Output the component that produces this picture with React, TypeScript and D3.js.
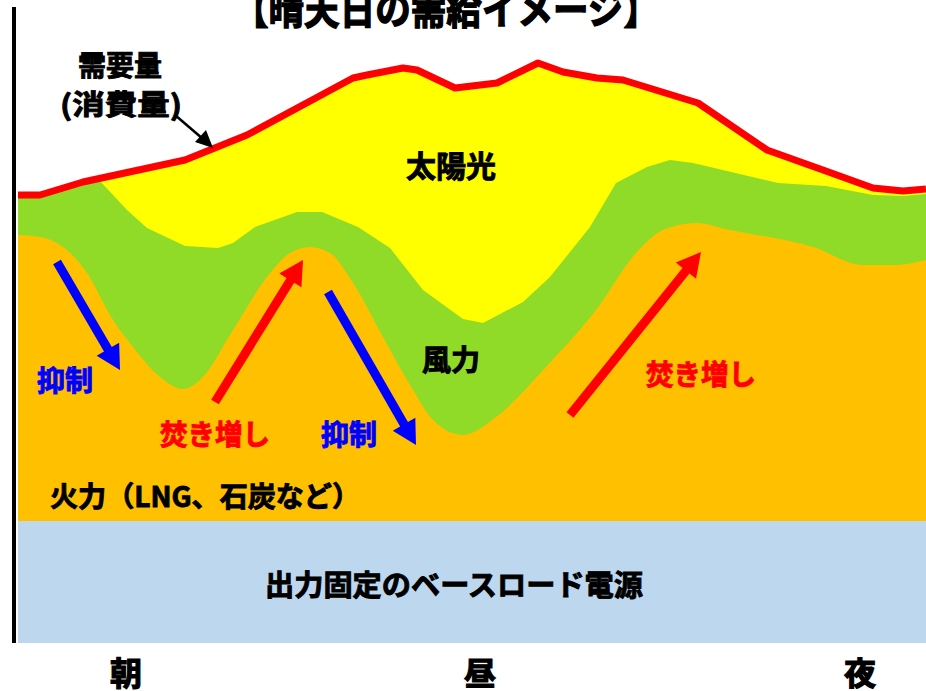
import React from 'react';
import * as d3 from 'd3';

// time index (0 = left edge of the plot) and output level
const demand: [number, number][] = [
  [0, 448], [22, 448], [65, 461], [167, 483], [229, 508], [335, 565], [349, 568],
  [385, 575], [399, 573], [437, 555], [479, 560], [520, 580], [545, 571], [579, 565],
  [605, 563], [680, 540], [749, 493], [805, 473], [855, 455], [885, 452], [908, 454],
];

const windTop: [number, number][] = [
  [0, 446], [22, 446], [65, 459], [82, 462], [109, 433], [129, 415], [167, 397],
  [200, 395], [215, 400], [237, 416], [279, 431], [304, 431], [340, 416], [372, 395],
  [405, 353], [445, 324], [465, 320], [505, 341], [532, 366], [572, 416], [598, 460],
  [629, 476], [652, 483], [675, 480], [760, 460], [808, 457], [855, 448], [885, 447], [908, 449],
];

const thermalTop: [number, number][] = [
  [0, 408], [22, 406], [49, 393], [69, 370], [95, 323], [115, 296], [142, 266],
  [165, 254], [182, 263], [215, 313], [249, 366], [272, 390], [292, 396], [312, 390],
  [335, 360], [365, 306], [395, 253], [415, 223], [445, 208], [478, 226], [528, 276],
  [578, 333], [618, 390], [645, 413], [678, 420], [712, 413], [795, 396], [845, 378],
  [878, 378], [908, 383],
];

const baseLoad: [number, number][] = [[0, 122], [908, 122]];

// arrows: [fromT, fromV, toT, toV, kind]
const arrows: [number, number, number, number, string][] = [
  [39, 381, 102, 273, 'down'],
  [197, 241, 285, 383, 'up'],
  [310, 351, 398, 198, 'down'],
  [552, 228, 683, 391, 'up'],
];

const timeLabels = ['朝', '昼', '夜'];
const timeLabelPos = [108, 462, 842];

const W = 926;
const H = 691;
const FONT = '"Noto Sans CJK JP", "Noto Sans", sans-serif';

const x = d3.scaleLinear().domain([0, 908]).range([18, 926]);
const y = d3.scaleLinear().domain([0, 623]).range([643, 20]);

function areaPath(pts: [number, number][], curve: d3.CurveFactory) {
  return d3.area<[number, number]>()
    .x(d => x(d[0]))
    .y0(y(0))
    .y1(d => y(d[1]))
    .curve(curve)(pts) as string;
}

function arrowShape(a: [number, number, number, number, string]) {
  const x1 = x(a[0]), y1 = y(a[1]), x2 = x(a[2]), y2 = y(a[3]);
  const ang = Math.atan2(y2 - y1, x2 - x1);
  const headLen = 24, headW = 13, shaftW = 4.5;
  const bx = x2 - headLen * Math.cos(ang), by = y2 - headLen * Math.sin(ang);
  const nx = -Math.sin(ang), ny = Math.cos(ang);
  const pts = [
    [x1 + nx * shaftW, y1 + ny * shaftW],
    [bx + nx * shaftW, by + ny * shaftW],
    [bx + nx * headW, by + ny * headW],
    [x2, y2],
    [bx - nx * headW, by - ny * headW],
    [bx - nx * shaftW, by - ny * shaftW],
    [x1 - nx * shaftW, y1 - ny * shaftW],
  ];
  return 'M' + pts.map(p => p.join(',')).join('L') + 'Z';
}

export default function App() {
  const demandLine = d3.line<[number, number]>()
    .x(d => x(d[0]))
    .y(d => y(d[1]))(demand) as string;

  // bold text, thickened a little with a stroke of the same colour
  const txt = (s: string, cx: number, cy: number, size: number, fill = '#000', len?: number, sw = 0.9) => (
    <text x={cx} y={cy} fontSize={size} fontWeight="bold" fill={fill} stroke={fill} strokeWidth={sw}
      textAnchor="middle" fontFamily={FONT}
      {...(len ? { textLength: len, lengthAdjust: 'spacingAndGlyphs' } : {})}>{s}</text>
  );

  return (
    <svg width={W} height={H} style={{ position: 'absolute', left: 0, top: 0, background: '#fff' }}>
      <path d={areaPath(demand, d3.curveLinear)} fill="#FFFF00" />
      <path d={areaPath(windTop, d3.curveLinear)} fill="#8FDB28" />
      <path d={areaPath(thermalTop, d3.curveMonotoneX)} fill="#FFC000" />
      <path d={areaPath(baseLoad, d3.curveLinear)} fill="#BDD7EE" />
      <path d={demandLine} fill="none" stroke="#FF0000" strokeWidth={7} strokeLinejoin="round" />

      <line x1={14} x2={14} y1={7} y2={643} stroke="#000" strokeWidth={4} />

      {arrows.map((a, i) => (
        <path key={i} d={arrowShape(a)} fill={a[4] === 'up' ? '#FF0000' : '#0000FF'} />
      ))}

      {/* demand label and pointer */}
      {txt('需要量', 120, 76, 28)}
      {txt('(消費量)', 121, 115, 28, '#000', 122)}
      <line x1={175} y1={115} x2={203} y2={139} stroke="#000" strokeWidth={2.5} />
      <path d="M213,148 L195,142 L206,130 Z" fill="#000" />

      {txt('【晴天日の需給イメージ】', 446, 24, 40, '#000', 426, 1.4)}

      {txt('太陽光', 451, 177, 30)}
      {txt('風力', 451, 371, 29)}
      {txt('抑制', 65, 391, 28, '#0000FF')}
      {txt('焚き増し', 215, 445, 28, '#FF0000', 110)}
      {txt('抑制', 349, 445, 28, '#0000FF')}
      {txt('焚き増し', 701, 385, 28, '#FF0000', 110)}
      {txt('火力（LNG、石炭など）', 205, 507, 28, '#000', 310)}
      {txt('出力固定のベースロード電源', 454, 596, 29, '#000', 378)}

      {timeLabels.map((s, i) => (
        <g key={s}>{txt(s, timeLabelPos[i] + 18, 685, 32, '#000', undefined, 1.2)}</g>
      ))}
    </svg>
  );
}
